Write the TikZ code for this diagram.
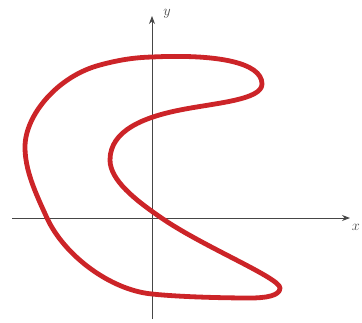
\documentclass[tikz,border=0pt]{standalone}
\usetikzlibrary{arrows.meta}
\definecolor{curvered}{RGB}{204,36,40}
\definecolor{axisgray}{RGB}{70,70,70}
\tikzset{
  axis/.style={draw=axisgray, line width=0.9pt, -{Stealth[length=8pt,width=6pt]}},
  curve/.style={draw=curvered, line width=4.8pt, line join=round},
  axlabel/.style={font=\fontsize{15}{15}\selectfont, text=axisgray, inner sep=0pt}
}
\begin{document}
\begin{tikzpicture}[x=1pt,y=-1pt]
\useasboundingbox (0,0) rectangle (362,322);
\coordinate (ybot) at (152,319);
\coordinate (ytop) at (152,16);
\coordinate (xleft) at (12,218);
\coordinate (xright) at (350,218);
\draw[axis] (ybot) -- (ytop);
\draw[axis] (xleft) -- (xright);
\node[axlabel] (ylab) at (167,14) {$y$};
\node[axlabel] (xlab) at (356,227) {$x$};
\draw[curve] (152,57)
  .. controls (215,54) and (262,62) .. (262,84)
  .. controls (262,100) and (215,103) .. (180,110)
  .. controls (145,117) and (110,130) .. (110,160)
  .. controls (110,180) and (135,200) .. (163,219)
  .. controls (205,247.5) and (280,278) .. (280,288)
  .. controls (280,296) and (265,298) .. (250,298)
  .. controls (225,298) and (180,297) .. (152,294)
  .. controls (110,290) and (64,255) .. (47,218)
  .. controls (35,192) and (25,170) .. (25,147)
  .. controls (25,115) and (58,76) .. (100,65)
  .. controls (120,59.6) and (135,57.5) .. cycle;
\end{tikzpicture}
\end{document}
